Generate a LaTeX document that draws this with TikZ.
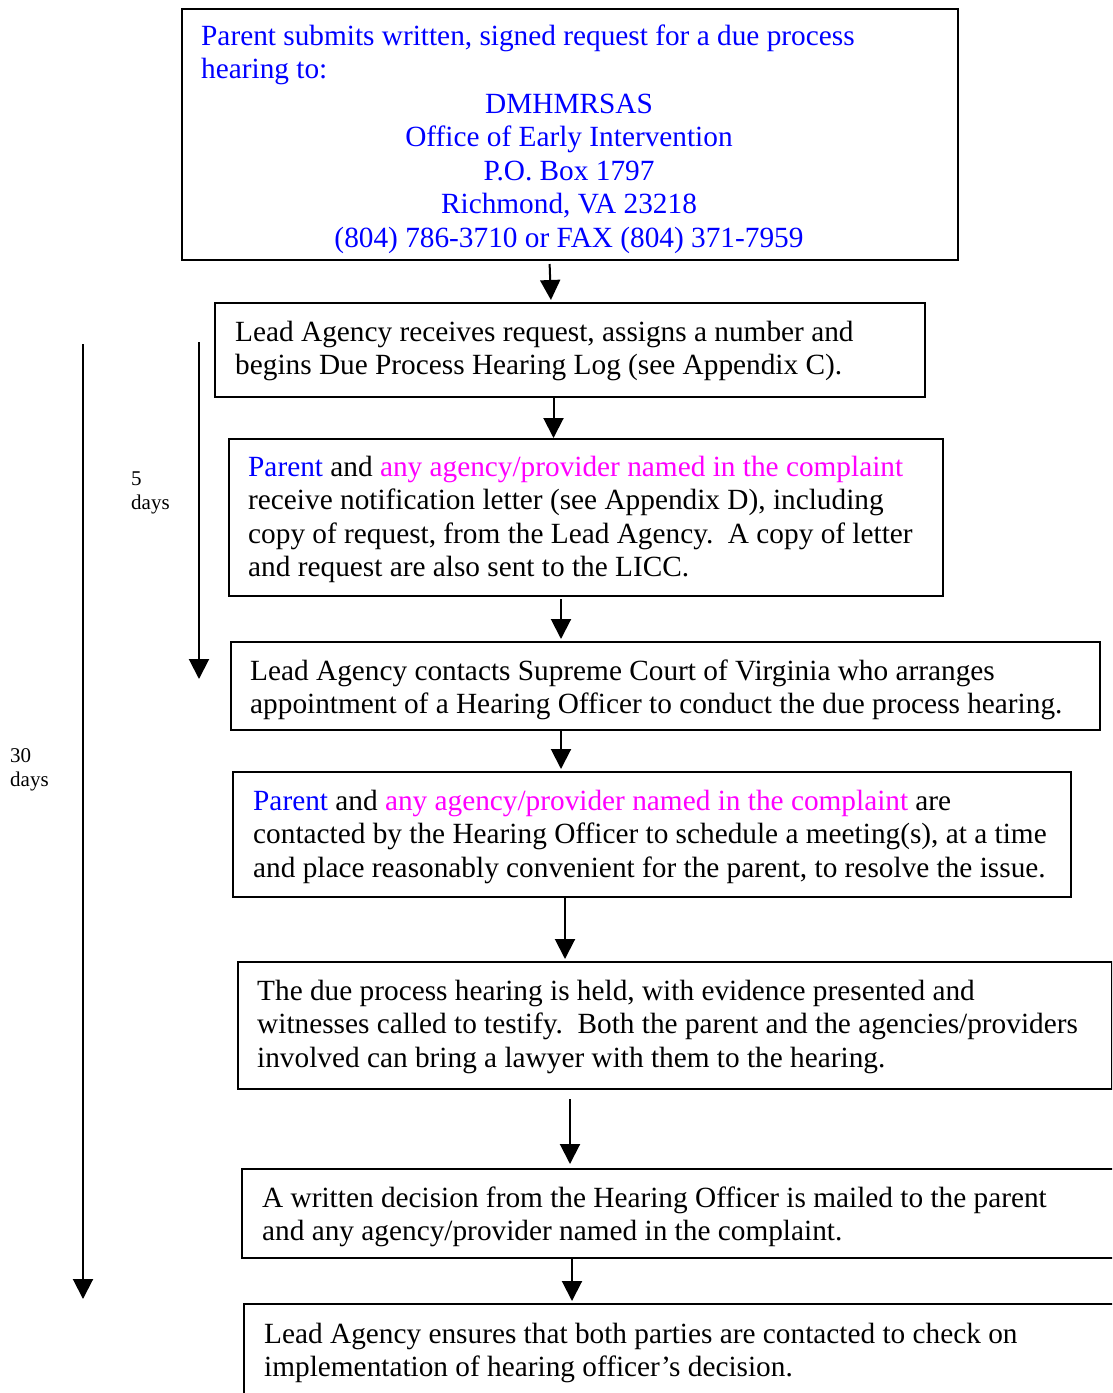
\documentclass[tikz,border=0pt]{standalone}
\usepackage{fontspec}
\setmainfont{Liberation Serif}
\usetikzlibrary{arrows.meta}
\definecolor{tblue}{RGB}{0,0,255}
\definecolor{tmag}{RGB}{255,0,255}
\begin{document}
\begin{tikzpicture}[x=1pt,y=-1pt,
  box/.style={draw=black,line width=2pt,inner sep=0pt,anchor=north west},
  txt/.style={anchor=base west,inner sep=0pt,align=left,font=\fontsize{29.3}{33.6}\selectfont},
  ctxt/.style={anchor=base,inner sep=0pt,align=center,font=\fontsize{29.3}{33.6}\selectfont},
  small/.style={anchor=base west,inner sep=0pt,align=left,font=\fontsize{21}{24.8}\selectfont},
  arr/.style={line width=2pt,-{Triangle[length=20pt,width=20pt]}}]
\useasboundingbox (0,0) rectangle (1112,1393);
\clip (0,0) rectangle (1112,1393);
% boxes
\node[box,minimum width=776pt,minimum height=251pt] (b1) at (181,8) {};
\node[box,minimum width=710pt,minimum height=94pt] (b2) at (214,302) {};
\node[box,minimum width=714pt,minimum height=157pt] (b3) at (228,438) {};
\node[box,minimum width=869pt,minimum height=88pt] (b4) at (230,641) {};
\node[box,minimum width=838pt,minimum height=125pt] (b5) at (232,771) {};
\node[box,minimum width=874pt,minimum height=127pt] (b6) at (237,961) {};
\node[box,minimum width=920pt,minimum height=89pt] (b7) at (241,1168) {};
\node[box,minimum width=920pt,minimum height=200pt] (b8) at (243,1303) {};
% texts (anchor = baseline of the last line)
\node[txt,text=tblue] (t1) at (201,78.6) {Parent submits written, signed request for a due process\\hearing to:};
\node[ctxt,text=tblue] (t1c) at (569,247.4) {DMHMRSAS\\Office of Early Intervention\\P.O. Box 1797\\Richmond, VA 23218\\(804) 786-3710 or FAX (804) 371-7959};
\node[txt] (t2) at (235,374.6) {Lead Agency receives request, assigns a number and\\begins Due Process Hearing Log (see Appendix C).};
\node[txt] (t3) at (248,576.8) {\textcolor{tblue}{Parent} and \textcolor{tmag}{any agency/provider named in the complaint}\\receive notification letter (see Appendix D), including\\copy of request, from the Lead Agency.\ \ A copy of letter\\and request are also sent to the LICC.};
\node[txt] (t4) at (250,713.6) {Lead Agency contacts Supreme Court of Virginia who arranges\\appointment of a Hearing Officer to conduct the due process hearing.};
\node[txt] (t5) at (253,877.2) {\textcolor{tblue}{Parent} and \textcolor{tmag}{any agency/provider named in the complaint} are\\contacted by the Hearing Officer to schedule a meeting(s), at a time\\and place reasonably convenient for the parent, to resolve the issue.};
\node[txt] (t6) at (257,1067.2) {The due process hearing is held, with evidence presented and\\witnesses called to testify.\ \ Both the parent and the agencies/providers\\involved can bring a lawyer with them to the hearing.};
\node[txt] (t7) at (262,1240.6) {A written decision from the Hearing Officer is mailed to the parent\\and any agency/provider named in the complaint.};
\node[txt] (t8) at (264,1376.6) {Lead Agency ensures that both parties are contacted to check on\\implementation of hearing officer’s decision.};
\node[small] (l5) at (131,509.8) {5\\days};
\node[small] (l30) at (10,786.8) {30\\days};
% connectors
\draw[arr,shorten <=3pt,shorten >=2pt] (b1.south -| 549.5,0) -- (b2.north -| 551,0);
\draw[arr] (b2.south -| 553.5,0) -- (b3.north -| 553.5,0);
\draw[arr,shorten <=2pt,shorten >=2pt] (b3.south -| 561,0) -- (b4.north -| 561,0);
\draw[arr,shorten >=2pt] (b4.south -| 561,0) -- (b5.north -| 561,0);
\draw[arr,shorten >=2pt] (b5.south -| 565,0) -- (b6.north -| 565,0);
\draw[arr,shorten <=9pt,shorten >=4pt] (b6.south -| 570,0) -- (b7.north -| 570,0);
\draw[arr,shorten >=2pt] (b7.south -| 572,0) -- (b8.north -| 572,0);
% time spans
\coordinate (s5) at (199,342);
\coordinate (e5) at (199,679);
\coordinate (s30) at (83,344);
\coordinate (e30) at (83,1299);
\draw[arr] (s5) -- (e5);
\draw[arr] (s30) -- (e30);
\end{tikzpicture}
\end{document}
